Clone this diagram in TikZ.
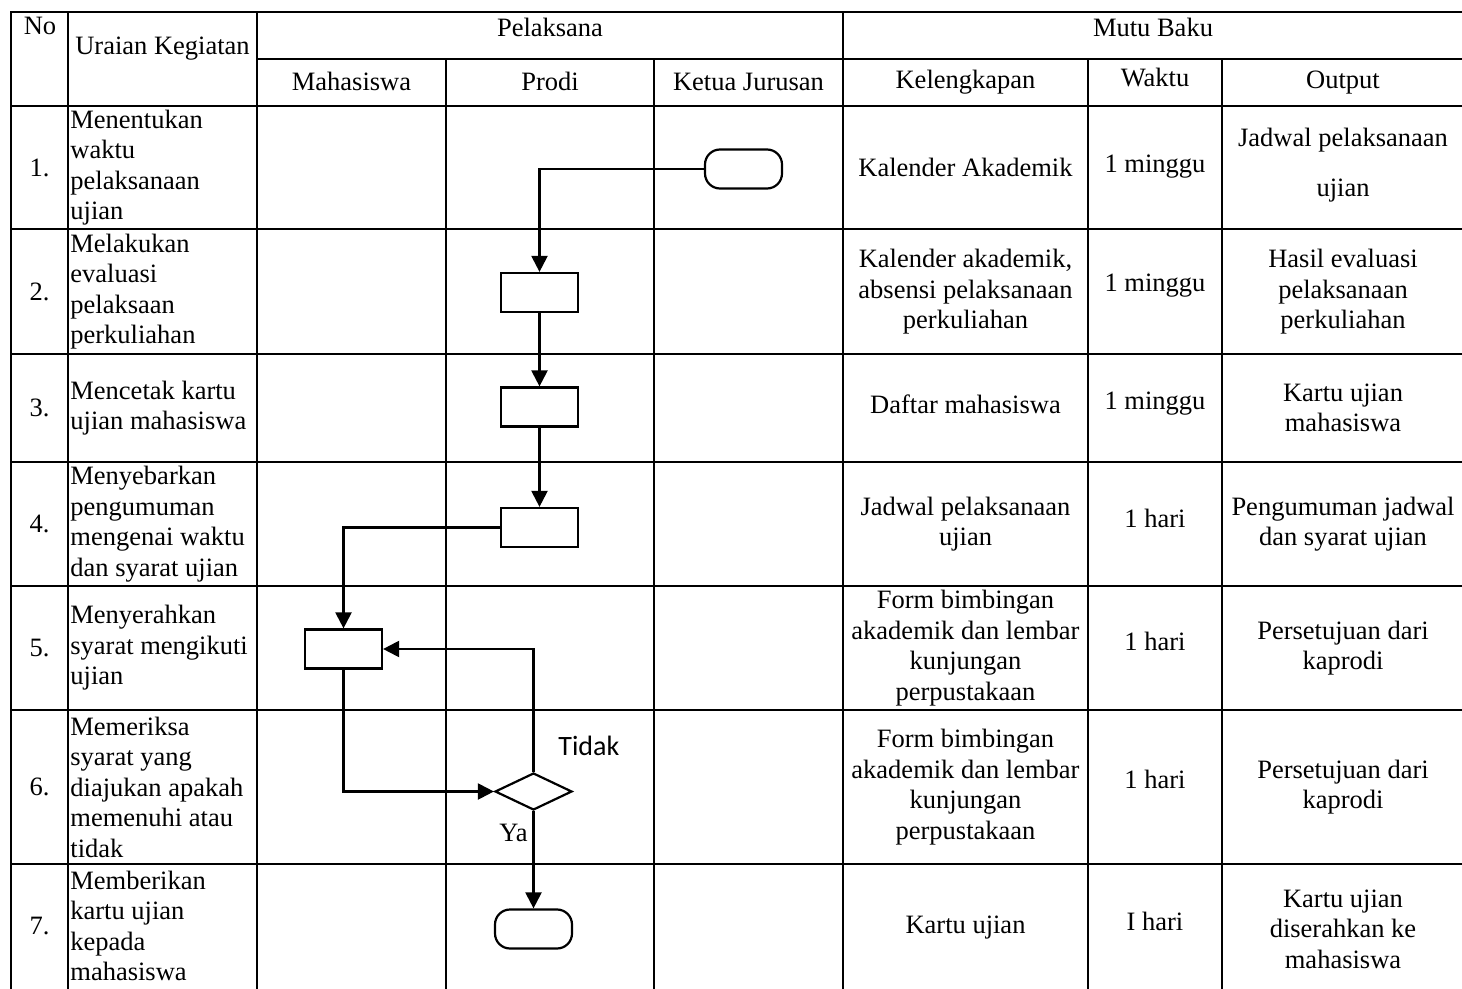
\documentclass[tikz,border=0pt]{standalone}
\usepackage{fontspec}
\setmainfont{Liberation Serif}
\newfontfamily\sansc{Carlito}
\usetikzlibrary{arrows.meta,shapes.geometric}
\newcommand\tabfont{\fontsize{13.25pt}{15.25pt}\selectfont}
\begin{document}
\begin{tikzpicture}[x=0.5pt,y=-0.5pt,
  tbl/.style={line width=1pt},
  txt/.style={inner sep=0pt,font=\tabfont,align=center},
  ltxt/.style={inner sep=0pt,font=\tabfont,align=left,anchor=west},
  flowbox/.style={draw,line width=1.1pt,minimum width=38.5pt,minimum height=19.5pt,inner sep=0pt},
  term/.style={flowbox,rounded corners=7.5pt},
  decision/.style={draw,diamond,line width=1.1pt,minimum width=38.5pt,minimum height=18.5pt,inner sep=0pt},
  conn/.style={line width=1.1pt,-{Triangle[length=8pt,width=8pt]}}
]
\useasboundingbox (0,0) rectangle (1462,989);
\clip (0,0) rectangle (1462,989);
% ---------- table grid ----------
\draw[tbl] (11,12) rectangle (1464,990);
\draw[tbl] (11,106) -- (1464,106);
\draw[tbl] (257,59) -- (1464,59);
\foreach \yy in {229,354,462,586,710,864}{\draw[tbl] (11,\yy) -- (1464,\yy);}
\foreach \xx in {68,257,843}{\draw[tbl] (\xx,12) -- (\xx,990);}
\foreach \xx in {446,654,1088,1222}{\draw[tbl] (\xx,59) -- (\xx,990);}
% ---------- header ----------
\node[txt,anchor=base] (hno) at (40,35) {No};
\node[txt,anchor=base] (hur) at (162.5,55) {Uraian Kegiatan};
\node[txt,anchor=base] (hpel) at (550,37) {Pelaksana};
\node[txt,anchor=base] (hmutu) at (1153,37) {Mutu Baku};
\node[txt,anchor=base] (hmhs) at (351.5,91) {Mahasiswa};
\node[txt,anchor=base] (hprodi) at (550,91) {Prodi};
\node[txt,anchor=base] (hkj) at (748.5,91) {Ketua Jurusan};
\node[txt,anchor=base] (hkel) at (965.5,89) {Kelengkapan};
\node[txt,anchor=base] (hwak) at (1155,87) {Waktu};
\node[txt,anchor=base] (hout) at (1343,89) {Output};
% ---------- numbers ----------
\node[txt] (n1) at (39.5,167.5) {1.};
\node[txt] (n2) at (39.5,291.5) {2.};
\node[txt] (n3) at (39.5,408) {3.};
\node[txt] (n4) at (39.5,524) {4.};
\node[txt] (n5) at (39.5,648) {5.};
\node[txt] (n6) at (39.5,787) {6.};
\node[txt] (n7) at (39.5,926) {7.};
% ---------- uraian ----------
\node[ltxt] (u1) at (70,167.5) {Menentukan\\waktu\\pelaksanaan\\ujian};
\node[ltxt] (u2) at (70,291.5) {Melakukan\\evaluasi\\pelaksaan\\perkuliahan};
\node[ltxt] (u3) at (70,408) {Mencetak kartu\\ujian mahasiswa};
\node[ltxt] (u4) at (70,524) {Menyebarkan\\pengumuman\\mengenai waktu\\dan syarat ujian};
\node[ltxt] (u5) at (70,648) {Menyerahkan\\syarat mengikuti\\ujian};
\node[ltxt] (u6) at (70,787) {Memeriksa\\syarat yang\\diajukan apakah\\memenuhi atau\\tidak};
\node[ltxt] (u7) at (70,926) {Memberikan\\kartu ujian\\kepada\\mahasiswa};
% ---------- kelengkapan ----------
\node[txt] (k1) at (965.5,167) {Kalender Akademik};
\node[txt] (k2) at (965.5,292) {Kalender akademik,\\absensi pelaksanaan\\perkuliahan};
\node[txt] (k3) at (965.5,404) {Daftar mahasiswa};
\node[txt] (k4) at (965.5,524) {Jadwal pelaksanaan\\ujian};
\node[txt] (k5) at (965.5,648) {Form bimbingan\\akademik dan lembar\\kunjungan\\perpustakaan};
\node[txt] (k6) at (965.5,787) {Form bimbingan\\akademik dan lembar\\kunjungan\\perpustakaan};
\node[txt] (k7) at (965.5,928) {Kartu ujian};
% ---------- waktu ----------
\node[txt] (w1) at (1155,167) {1 minggu};
\node[txt] (w2) at (1155,286) {1 minggu};
\node[txt] (w3) at (1155,404) {1 minggu};
\node[txt] (w4) at (1155,518) {1 hari};
\node[txt] (w5) at (1155,641) {1 hari};
\node[txt] (w6) at (1155,779) {1 hari};
\node[txt] (w7) at (1155,921) {I hari};
% ---------- output ----------
\node[txt] (o1) at (1343,165) {Jadwal pelaksanaan\\[9.5pt]ujian};
\node[txt] (o2) at (1343,292) {Hasil evaluasi\\pelaksanaan\\perkuliahan};
\node[txt] (o3) at (1343,408) {Kartu ujian\\mahasiswa};
\node[txt] (o4) at (1343,524) {Pengumuman jadwal\\dan syarat ujian};
\node[txt] (o5) at (1343,648) {Persetujuan dari\\kaprodi};
\node[txt] (o6) at (1343,787) {Persetujuan dari\\kaprodi};
\node[txt] (o7) at (1343,929) {Kartu ujian\\diserahkan ke\\mahasiswa};
% ---------- flowchart ----------
\node[term] (start) at (743.5,169) {};
\node[flowbox] (b2) at (539.5,292.5) {};
\node[flowbox] (b3) at (539.5,407) {};
\node[flowbox] (b4) at (539.5,527.5) {};
\node[flowbox] (b5) at (343.5,649) {};
\node[decision] (dec) at (533.5,791.5) {};
\node[term] (stop) at (533.5,929) {};
\draw[conn] (start.west) -| (b2.north);
\draw[conn] (b2.south) -- (b3.north);
\draw[conn] (b3.south) -- (b4.north);
\draw[conn] (b4.west) -| (b5.north);
\draw[conn] (b5.south) |- (dec.west);
\draw[conn] (dec.north) |- (b5.east);
\draw[conn] (dec.south) -- (stop.north);
\node[inner sep=0pt,font=\sansc\fontsize{14pt}{16pt}\selectfont,anchor=base west] (ltidak) at (558,755) {Tidak};
\node[inner sep=0pt,font=\tabfont,anchor=base west] (lya) at (499,841) {Ya};
\end{tikzpicture}
\end{document}
